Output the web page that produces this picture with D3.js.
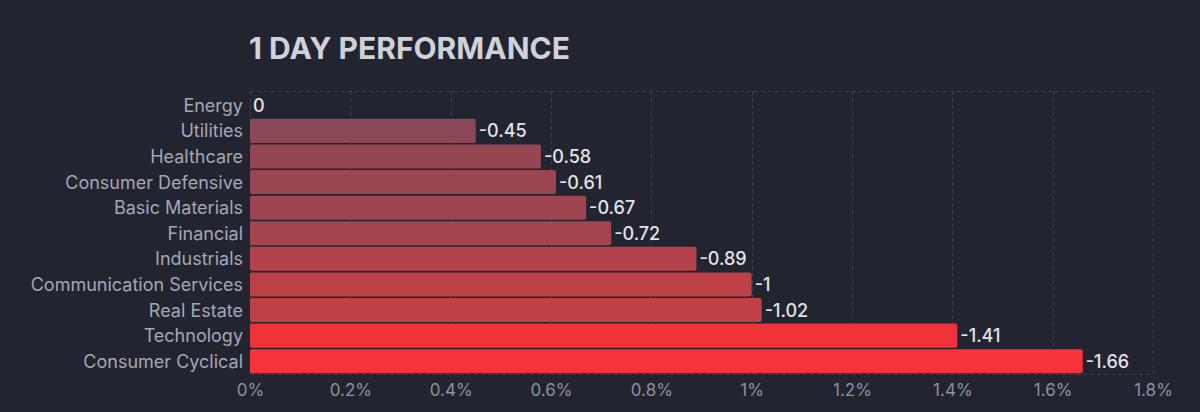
<!DOCTYPE html>
<html>
<head>
<meta charset="utf-8">
<script src="https://cdn.jsdelivr.net/npm/d3@7"></script>
<style>
  html, body { margin: 0; padding: 0; background: #22252f; }
  svg { display: block; font-family: Inter, "Noto Sans", sans-serif; }
</style>
</head>
<body>
<svg width="1200" height="412"></svg>
<script>
// data
const sectors = ["Energy", "Utilities", "Healthcare", "Consumer Defensive", "Basic Materials",
  "Financial", "Industrials", "Communication Services", "Real Estate", "Technology", "Consumer Cyclical"];
const changes = [0, -0.45, -0.58, -0.61, -0.67, -0.72, -0.89, -1, -1.02, -1.41, -1.66];
const tickValues = [0, 0.2, 0.4, 0.6, 0.8, 1, 1.2, 1.4, 1.6, 1.8];

const rows = sectors.map((s, i) => ({ sector: s, value: changes[i] }));

const svg = d3.select("svg");
const margin = { top: 91, right: 47, bottom: 38, left: 250 };
const W = 1200, H = 412;

const x = d3.scaleLinear().domain([0, 1.8]).range([margin.left, W - margin.right]);
const y = d3.scaleBand().domain(sectors).range([92.5, H - margin.bottom]).paddingInner(0.06).paddingOuter(0.03);

const color = d3.scaleLinear()
  .domain([0.45, 1.0, 1.41, 1.66])
  .range(["#8a4756", "#bd4147", "#ee3439", "#f6333a"]);

// title
svg.append("text")
  .attr("x", margin.left - 1).attr("y", 59)
  .attr("fill", "#cfd1db").attr("font-size", 30).attr("font-weight", 700)
  .text("1 DAY PERFORMANCE");

// grid
const grid = svg.append("g").attr("stroke", "#3d414d").attr("stroke-dasharray", "4,3").attr("stroke-width", 1);
grid.selectAll("line.v").data(tickValues).enter().append("line")
  .attr("x1", d => Math.round(x(d)) + 0.5).attr("x2", d => Math.round(x(d)) + 0.5)
  .attr("y1", margin.top).attr("y2", H - margin.bottom);
grid.append("line").attr("x1", x(0)).attr("x2", x(1.8)).attr("y1", margin.top + 0.5).attr("y2", margin.top + 0.5);
grid.append("line").attr("x1", x(0)).attr("x2", x(1.8)).attr("y1", H - margin.bottom + 0.5).attr("y2", H - margin.bottom + 0.5);

// bars
svg.append("g").selectAll("rect").data(rows).enter().append("rect")
  .attr("x", x(0))
  .attr("y", d => y(d.sector))
  .attr("width", d => x(Math.abs(d.value)) - x(0))
  .attr("height", y.bandwidth())
  .attr("rx", 2)
  .attr("fill", d => Math.abs(d.value) > 0 ? color(Math.abs(d.value)) : "none");

// value labels
svg.append("g").selectAll("text").data(rows).enter().append("text")
  .attr("x", d => x(Math.abs(d.value)) + 3)
  .attr("y", d => y(d.sector) + y.bandwidth() / 2)
  .attr("dy", "0.36em")
  .attr("fill", "#e2e3e8").attr("font-size", 18).attr("font-weight", 500)
  .text(d => d.value);

// category labels
svg.append("g").selectAll("text").data(rows).enter().append("text")
  .attr("x", margin.left - 7)
  .attr("y", d => y(d.sector) + y.bandwidth() / 2)
  .attr("dy", "0.36em")
  .attr("text-anchor", "end")
  .attr("fill", "#a4a7b6").attr("font-size", 18)
  .text(d => d.sector);

// x axis
const xAxis = d3.axisBottom(x).tickValues(tickValues).tickSize(0).tickPadding(7)
  .tickFormat(d => d3.format("~g")(d) + "%");
const ax = svg.append("g").attr("transform", `translate(0,${H - margin.bottom + 3})`).call(xAxis);
ax.select(".domain").remove();
ax.selectAll("text").attr("fill", "#8d91a0").attr("font-size", 17)
  .attr("font-family", "Inter, 'Noto Sans', sans-serif");
</script>
</body>
</html>
